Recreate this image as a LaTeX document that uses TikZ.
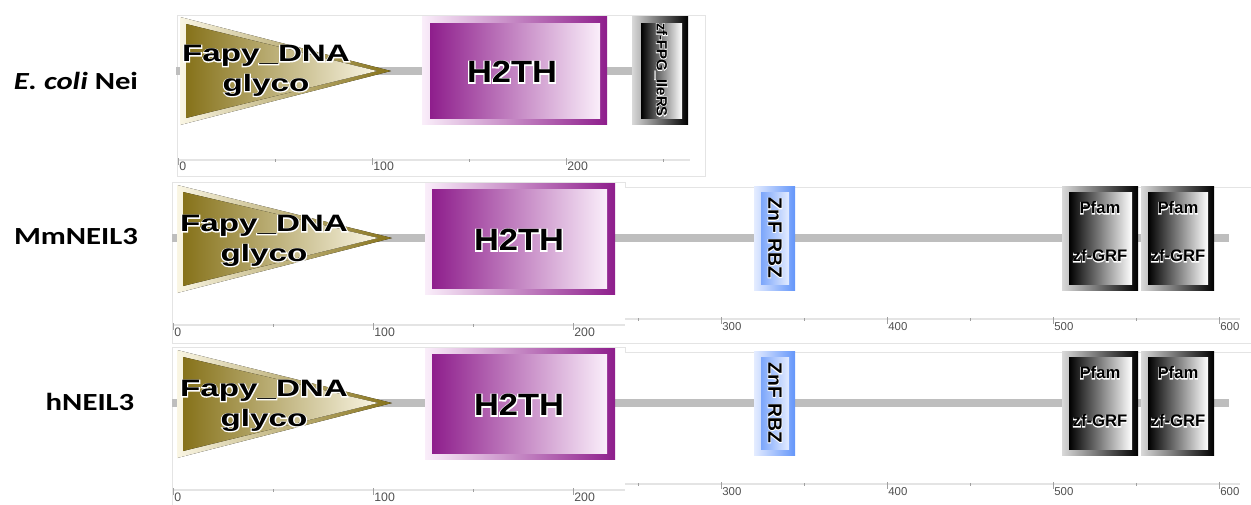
\documentclass[tikz,border=0pt]{standalone}
\usepackage{fontspec}
\setmainfont{Liberation Sans}
\newfontfamily\namefont{Carlito}
\newfontface\halofont{Liberation Sans Bold}[FakeBold=7]
\usetikzlibrary{positioning}

\definecolor{olivedk}{RGB}{134,114,26}
\definecolor{olivelt}{RGB}{250,246,228}
\definecolor{purpdk}{RGB}{142,30,140}
\definecolor{purplt}{RGB}{250,238,250}
\definecolor{bluedk}{RGB}{100,150,250}
\definecolor{bluelt}{RGB}{228,236,255}
\definecolor{bbgray}{RGB}{190,190,190}
\definecolor{panelgray}{RGB}{228,228,228}
\definecolor{tickgray}{RGB}{160,160,160}
\definecolor{numgray}{RGB}{80,80,80}

% stretched text with a white halo behind it
\newcommand{\halo}[2]{\scalebox{#1}[1]{\rlap{\halofont\color{white}#2}#2}}

\tikzset{
  panel/.style={draw=panelgray, line width=0.5pt},
  backbone/.style={draw=bbgray, line width=4.5pt},
  axisline/.style={draw=panelgray, line width=0.6pt},
  tickmark/.style={draw=tickgray, line width=0.4pt},
  num/.style={anchor=west, inner sep=0pt, font=\fontsize{7}{8}\selectfont, text=numgray},
  rowname/.style={font=\namefont\bfseries\fontsize{14}{16}\selectfont, inner sep=0pt},
  dtext/.style={inner sep=0pt, font=\bfseries\fontsize{13.5}{14}\selectfont},
  htext/.style={inner sep=0pt, font=\bfseries\fontsize{17.5}{18}\selectfont},
  stext/.style={inner sep=0pt, font=\bfseries\fontsize{9.5}{10}\selectfont},
  vtext/.style={inner sep=0pt, rotate=-90, font=\bfseries\fontsize{11}{12}\selectfont},
  goldout/.style={left color=olivelt, right color=olivedk},
  goldin/.style={left color=olivedk, right color=olivelt},
  purpout/.style={left color=purplt, right color=purpdk},
  purpin/.style={left color=purpdk, right color=purplt},
  blueout/.style={left color=bluelt, right color=bluedk},
  bluein/.style={left color=bluedk!85, right color=bluelt},
  grayout/.style={left color=white!85!black, right color=black},
  grayin/.style={left color=black, right color=white},
}

\begin{document}
\begin{tikzpicture}[x=0.02cm, y=-0.02cm]
\useasboundingbox (0,0) rectangle (1251,504);

% Row names
\node[rowname] (ecoli) at (76,81) {\scalebox{1.25}[1]{\textit{E. coli} Nei}};
\node[rowname] (mmneil) at (76,237) {\scalebox{1.25}[1]{MmNEIL3}};
\node[rowname] (hneil) at (90,402) {\scalebox{1.25}[1]{hNEIL3}};

% E. coli Nei
\draw[panel] (177,15) rectangle (705,176);
\coordinate (estart) at (176,71);
\coordinate (eend) at (634,71);
\draw[backbone, line width=4pt] (estart) -- (eend);
\fill[goldout] (180,17) -- (180,125) -- (391,71) -- cycle;
\fill[goldin] (186,24) -- (186,118) -- (377,71) -- cycle;
\fill[purpout] (422,16) rectangle (607,124);
\fill[purpin] (430,23) rectangle (600,118);
\fill[grayout] (632,16) rectangle (688,124);
\fill[grayin] (641,23) rectangle (682,118);
\node[dtext] (efapy) at (266,56) {\halo{1.4}{Fapy\_DNA}};
\node[dtext, below=4pt of efapy.south, anchor=north] (eglyco) {\halo{1.4}{glyco}};
\node[htext] (eh2th) at (512,72) {\halo{1.12}{H2TH}};
\node[vtext, font=\bfseries\fontsize{8.5}{9}\selectfont] (ezf) at (661,70) {\halo{1}{zf-FPG\_IleRS}};
\draw[axisline] (178,160) -- (690,160);
\foreach \aa in {50,150,250}
  \draw[tickmark] ({178+1.94*\aa},159) -- ({178+1.94*\aa},162);
\foreach \aa in {0,100,200} {
  \draw[tickmark] ({178+1.94*\aa},158) -- ({178+1.94*\aa},165);
  \node[num] (enum\aa) at ({179+1.94*\aa},166) {\aa};
}

% MmNEIL3 and hNEIL3
\foreach \p/\dy in {mm/0,h/165} {
\begin{scope}[shift={(0,\dy)}]
  \draw[panel] (172,182) -- (625,182) -- (625,187) -- (1251,187);
  \draw[panel] (172,182) -- (172,343) -- (1251,343);
  \coordinate (\p start) at (172,238);
  \coordinate (\p end) at (1229,238);
  \draw[backbone] (\p start) -- (\p end);
  % Fapy_DNA glyco
  \fill[goldout] (177,185) -- (177,293) -- (392,238) -- cycle;
  \fill[goldin] (183,192) -- (183,286) -- (378,238) -- cycle;
  % H2TH
  \fill[purpout] (425,183) rectangle (615,294);
  \fill[purpin] (432,189) rectangle (607,288);
  % ZnF RBZ
  \fill[blueout] (754,186) rectangle (795,290);
  \fill[bluein] (761,192) rectangle (789,284);
  % two zf-GRF
  \fill[grayout] (1062,186) rectangle (1138,290);
  \fill[grayin] (1069,192) rectangle (1132,284);
  \fill[grayout] (1141,186) rectangle (1214,290);
  \fill[grayin] (1148,192) rectangle (1208,284);
  \node[dtext] (\p fapy) at (264,226) {\halo{1.4}{Fapy\_DNA}};
  \node[dtext, below=4pt of \p fapy.south, anchor=north] (\p glyco) {\halo{1.4}{glyco}};
  \node[htext] (\p h2th) at (519,240) {\halo{1.12}{H2TH}};
  \node[vtext] (\p znf) at (775,238) {\halo{1}{ZnF RBZ}};
  \node[stext] (\p pfama) at (1100,208) {\halo{1}{Pfam}};
  \node[stext] (\p grfa) at (1100,256) {\halo{1}{zf-GRF}};
  \node[stext] (\p pfamb) at (1178,208) {\halo{1}{Pfam}};
  \node[stext] (\p grfb) at (1178,256) {\halo{1}{zf-GRF}};
  % scale, left part
  \draw[axisline] (173,325) -- (625,325);
  \foreach \aa in {50,150}
    \draw[tickmark] ({173+2*\aa},324) -- ({173+2*\aa},327);
  \foreach \aa in {0,100,200} {
    \draw[tickmark] ({173+2*\aa},323) -- ({173+2*\aa},330);
    \node[num] (\p num\aa) at ({174+2*\aa},332) {\aa};
  }
  % scale, right part
  \draw[axisline] (625,319) -- (1240,319);
  \foreach \aa in {250,350,450,550}
    \draw[tickmark] ({721+1.66*(\aa-300)},318) -- ({721+1.66*(\aa-300)},321);
  \foreach \aa in {300,400,500,600} {
    \draw[tickmark] ({721+1.66*(\aa-300)},317) -- ({721+1.66*(\aa-300)},324);
    \node[num, font=\fontsize{6.5}{7}\selectfont] (\p num\aa) at ({722+1.66*(\aa-300)},327) {\aa};
  }
\end{scope}
}

\end{tikzpicture}
\end{document}
